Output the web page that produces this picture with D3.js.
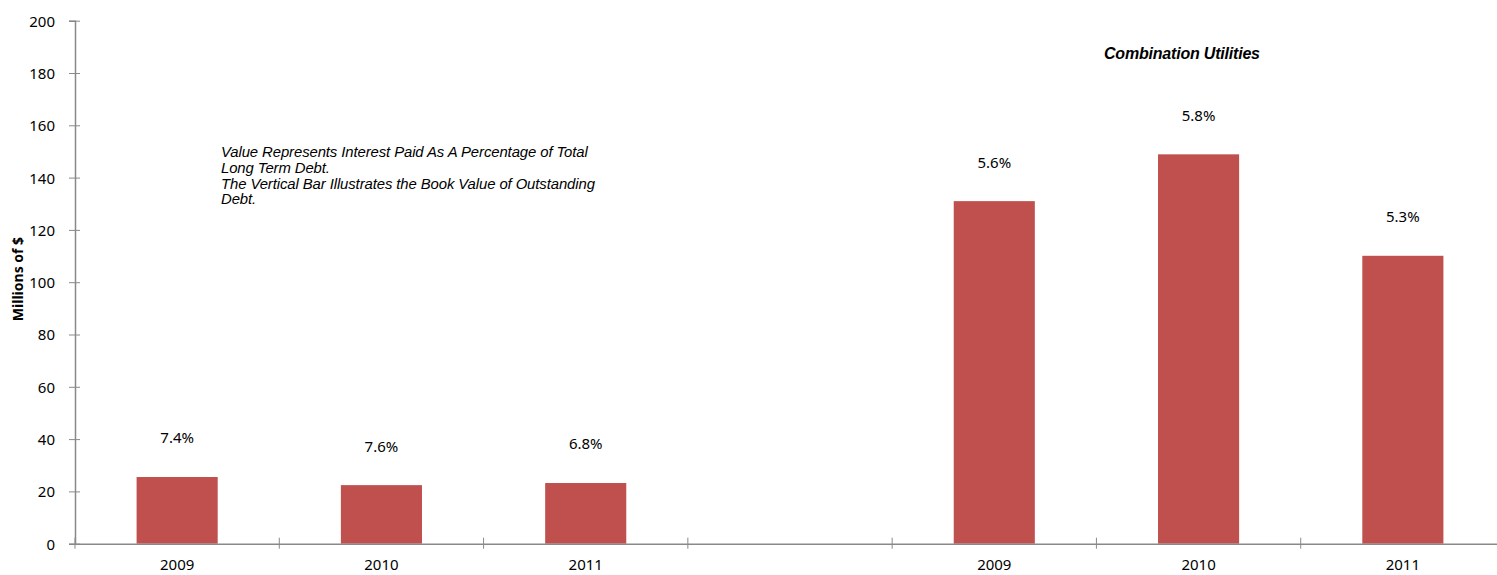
<!DOCTYPE html>
<html>
<head>
<meta charset="utf-8">
<script src="https://cdn.jsdelivr.net/npm/d3@7"></script>
<style>
  body { margin: 0; background: #fff; }
  svg { display: block; }
</style>
</head>
<body>
<div class="chart"></div>
<script>
// categories (the empty slot separates the two groups)
var categories = ["a2009", "a2010", "a2011", "gap", "b2009", "b2010", "b2011"];
var catLabels = ["2009", "2010", "2011", "", "2009", "2010", "2011"];
var debtValues = [25.5, 22.4, 23.2, null, 131.0, 148.9, 110.1];
var rateLabels = ["7.4%", "7.6%", "6.8%", "", "5.6%", "5.8%", "5.3%"];
var yTicks = [0, 20, 40, 60, 80, 100, 120, 140, 160, 180, 200];

var width = 1497, height = 575;
var plotLeft = 75, plotRight = 1505, plotTop = 20.7, plotBottom = 543.7;
var axisColor = "#898989";
var labelFont = "Noto Sans, sans-serif";

var svg = d3.select(".chart").append("svg")
  .attr("width", width).attr("height", height);

var x = d3.scaleBand().domain(categories).range([plotLeft, plotRight]).padding(0);
var y = d3.scaleLinear().domain([0, 200]).range([plotBottom, plotTop]);

// y axis
var yAxis = svg.append("g")
  .attr("transform", "translate(" + plotLeft + ",0)")
  .call(d3.axisLeft(y).tickValues(yTicks).tickSize(6).tickPadding(14));
yAxis.select(".domain").attr("stroke", axisColor).attr("stroke-width", 1.5);
yAxis.selectAll(".tick line").attr("stroke", axisColor).attr("x2", 5).attr("x1", -6);
yAxis.selectAll(".tick text").attr("dy", "0.36em")
  .style("font-family", labelFont).style("font-size", "15px").attr("fill", "#000");

// bars
var barW = x.bandwidth() * 0.397;
var cats = categories.map(function(c, i) { return {c: c, v: debtValues[i], lab: rateLabels[i]}; })
  .filter(function(d) { return d.v != null; });

svg.selectAll("rect.bar").data(cats).enter().append("rect")
  .attr("class", "bar")
  .attr("x", function(d) { return x(d.c) + (x.bandwidth() - barW) / 2; })
  .attr("y", function(d) { return y(d.v); })
  .attr("width", barW)
  .attr("height", function(d) { return y(0) - y(d.v); })
  .attr("fill", "#C0504D");

// percentage labels
svg.selectAll("text.lab").data(cats).enter().append("text")
  .attr("class", "lab")
  .attr("x", function(d) { return x(d.c) + x.bandwidth() / 2; })
  .attr("y", function(d) { return y(d.v) - 39; })
  .attr("dy", "0.36em")
  .attr("text-anchor", "middle")
  .style("font-family", labelFont)
  .style("font-size", "15px")
  .text(function(d) { return d.lab; });

// x axis
var xAxis = svg.append("g")
  .attr("transform", "translate(0," + plotBottom + ")")
  .call(d3.axisBottom(x).tickSize(0).tickPadding(17).tickFormat(function(d, i) { return catLabels[i]; }));
xAxis.select(".domain").attr("stroke", axisColor).attr("stroke-width", 1.5);
xAxis.selectAll(".tick text").attr("dy", "0.6em")
  .style("font-family", labelFont).style("font-size", "15px").attr("fill", "#000");

// x ticks at category boundaries
var bounds = categories.map(function(c) { return x(c); }).concat([plotRight]);
svg.selectAll("line.xt").data(bounds).enter().append("line")
  .attr("class", "xt")
  .attr("x1", function(d) { return d; }).attr("x2", function(d) { return d; })
  .attr("y1", plotBottom - 6).attr("y2", plotBottom + 5)
  .attr("stroke", axisColor).attr("stroke-width", 1);

// y axis title
svg.append("text")
  .attr("transform", "translate(23,279) rotate(-90)")
  .attr("text-anchor", "middle")
  .style("font-family", labelFont)
  .style("font-size", "14px")
  .style("font-weight", "bold")
  .text("Millions of $");

// note text
var note = ["Value Represents Interest Paid As A Percentage of Total",
            "Long Term Debt.",
            "The Vertical Bar Illustrates the Book Value of Outstanding",
            "Debt."];
svg.append("text")
  .attr("x", 221).attr("y", 157)
  .style("font-family", "Liberation Sans, Arial, sans-serif")
  .style("font-size", "14.9px")
  .style("font-style", "italic")
  .style("letter-spacing", "-0.1px")
  .selectAll("tspan").data(note).enter().append("tspan")
  .attr("x", 221).attr("dy", function(d, i) { return i ? 15.8 : 0; })
  .text(function(d) { return d; });

// group title
svg.append("text")
  .attr("x", 1104).attr("y", 59)
  .style("font-family", "Liberation Sans, Arial, sans-serif")
  .style("font-size", "16px")
  .style("font-style", "italic")
  .style("font-weight", "bold")
  .style("letter-spacing", "-0.2px")
  .text("Combination Utilities");
</script>
</body>
</html>
